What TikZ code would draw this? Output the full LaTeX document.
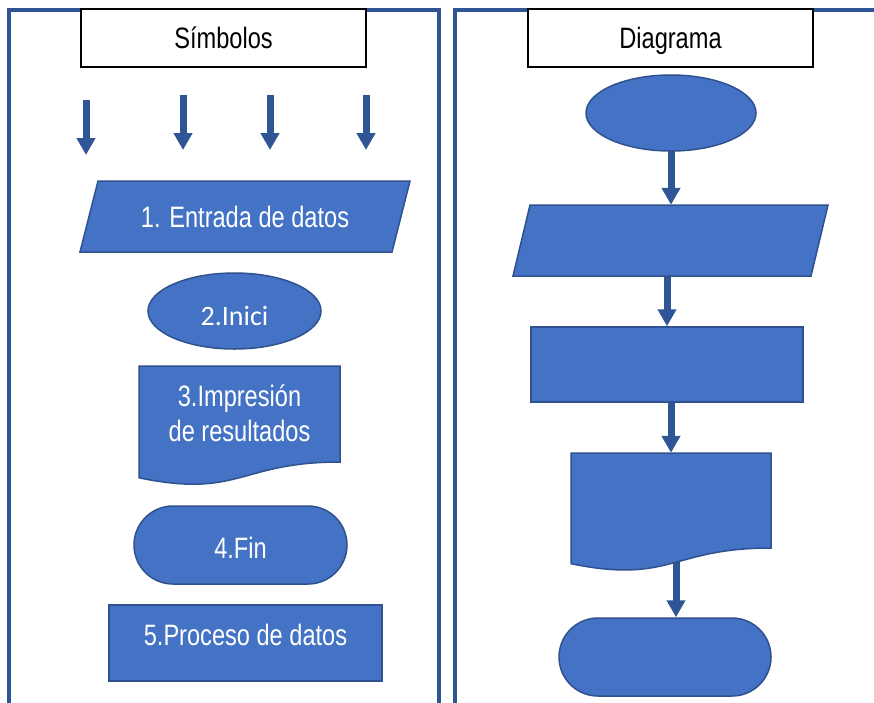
\documentclass[tikz,border=0pt]{standalone}
\usepackage{fontspec}
\setmainfont{Liberation Sans}
\newfontfamily\calib{Carlito}
\usepackage{graphicx}
\usetikzlibrary{shapes.geometric,shapes.misc,arrows.meta,backgrounds}
\definecolor{fillb}{RGB}{68,114,196}
\definecolor{edgeb}{RGB}{47,82,143}
\definecolor{lineb}{RGB}{47,85,151}
\newcommand{\nrw}[1]{\scalebox{0.8}[1]{#1}}
\begin{document}
\begin{tikzpicture}[x=1pt,y=-1pt,
  shp/.style={fill=fillb,draw=edgeb,line width=1.5pt,inner sep=0pt},
  ghost/.style={inner sep=0pt},
  hdr/.style={draw=black,fill=white,line width=1.2pt,inner sep=0pt,minimum width=285pt,minimum height=58pt},
  panel/.style={draw=lineb,line width=4pt,line join=miter},
  arr/.style={draw=lineb,line width=7pt,-{Triangle[width=18pt,length=17pt]}},
  txt/.style={font=\fontsize{29.5}{35}\selectfont,text=white,inner sep=0pt,anchor=base,align=center},
  htxt/.style={txt,text=black},
]
\useasboundingbox (0,0) rectangle (874,702);
% panels
\draw[panel] (9,708) -- (9,10) -- (439,10) -- (439,708);
\draw[panel] (455,708) -- (455,10) -- (880,10);
% headers
\node[hdr] (h1) at (223.5,38) {};
\node[htxt] (h1t) at (223.5,48.3) {\nrw{Símbolos}};
\node[hdr] (h2) at (670.5,38) {};
\node[htxt] (h2t) at (670.5,48.3) {\nrw{Diagrama}};
% free arrows (left panel)
\coordinate (a1s) at (86,100);  \coordinate (a1e) at (86,155);
\coordinate (a2s) at (183,95);  \coordinate (a2e) at (183,150);
\coordinate (a3s) at (270,95);  \coordinate (a3e) at (270,150);
\coordinate (a4s) at (366,95);  \coordinate (a4e) at (366,150);
\draw[arr] (a1s) -- (a1e);
\draw[arr] (a2s) -- (a2e);
\draw[arr] (a3s) -- (a3e);
\draw[arr] (a4s) -- (a4e);
% left symbols
\draw[shp] (98,181) -- (410,181) -- (392,252) -- (80,252) -- cycle;
\node[txt] (s1) at (245,227.3) {\nrw{1. Entrada de datos}};
\node[shp,ellipse,minimum width=173pt,minimum height=76pt] (s2) at (234.5,311) {};
\node[txt,font=\calib\fontsize{28}{34}\selectfont] (s2t) at (234.5,325) {2.Inici};
\draw[shp] (139,366) -- (340,366) -- (340,462) .. controls (239.5,462) and (239.5,498.6) .. (139,477.8) -- cycle;
\node[txt] (s3t) at (239.5,441.7) {\nrw{3.Impresión}\\\nrw{de resultados}};
\node[shp,rounded rectangle,minimum width=213pt,minimum height=78pt] (s4) at (240.5,545) {};
\node[txt] (s4t) at (240.5,558.3) {\nrw{4.Fin}};
\node[shp,minimum width=273pt,minimum height=76pt] (s5) at (245.5,643) {};
\node[txt] (s5t) at (245.5,645) {\nrw{5.Proceso de datos}};
% right diagram
\node[shp,ellipse,minimum width=170pt,minimum height=76pt] (e) at (671,113) {};
\draw[shp] (530,205) -- (828,205) -- (811,276) -- (513,276) -- cycle;
\node[ghost,minimum width=298pt,minimum height=71pt] (p) at (670.5,240.5) {};
\node[shp,minimum width=272pt,minimum height=75pt] (r) at (667,364.5) {};
\draw[shp] (571,453) -- (771,453) -- (771,548) .. controls (671,548) and (671,584.2) .. (571,563.7) -- cycle;
\node[ghost,minimum width=200pt,minimum height=110pt] (d) at (671,508) {};
\node[shp,rounded rectangle,minimum width=212pt,minimum height=78pt] (t) at (665,657) {};
\begin{scope}[on background layer]
\draw[arr] (e.center) -- (e.center |- p.north);
\draw[arr] (r.north |- p.center) -- (r.north);
\draw[arr] (d.center |- r.center) -- (d.north);
\draw[arr] ([xshift=5pt]d.center) -- ([xshift=5pt]d.center |- t.north);
\end{scope}
\end{tikzpicture}
\end{document}
